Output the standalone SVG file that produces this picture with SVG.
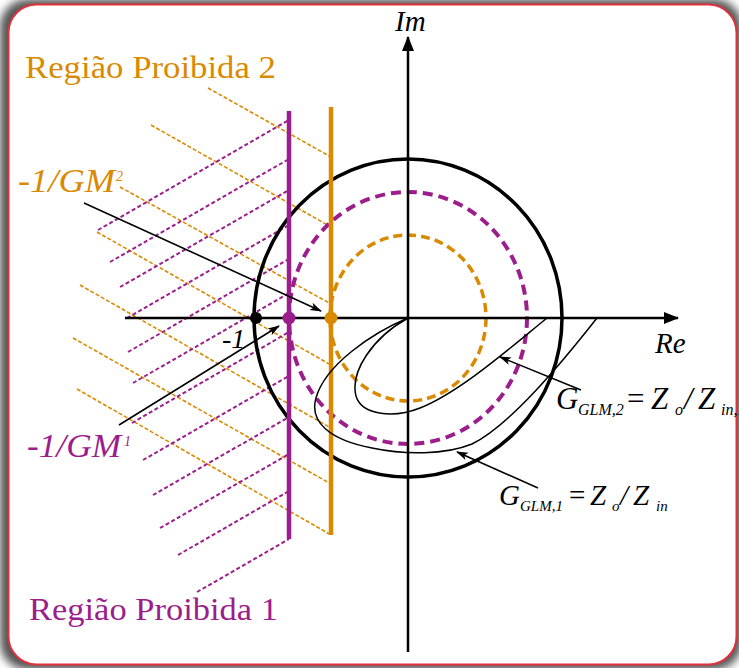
<svg xmlns="http://www.w3.org/2000/svg" width="739" height="668" viewBox="0 0 739 668">
<style>
.m{font-style:italic;}
.u{font-style:normal;}
.or{fill:#d98a00;}
.pu{fill:#9c1d8c;}
.hor{stroke:#d98a00;stroke-width:1.6;stroke-dasharray:4 2;fill:none;}
.hpu{stroke:#9c1d8c;stroke-width:2;stroke-dasharray:4 2.5;fill:none;}
.ax{stroke:#000;stroke-width:2.5;fill:none;}
.ann{stroke:#000;stroke-width:1.6;fill:none;marker-end:url(#ah);}
.cur{stroke:#000;stroke-width:1.5;fill:none;}
</style>
<defs>
<filter id="sh" x="-5%" y="-5%" width="110%" height="110%"><feGaussianBlur stdDeviation="4"/></filter>
<marker id="ah" markerWidth="12" markerHeight="10" refX="11" refY="5" orient="auto" markerUnits="userSpaceOnUse"><path d="M0,1 L12,5 L0,9 L3,5 Z" fill="#000"/></marker>
<marker id="axh" markerWidth="16" markerHeight="14" refX="14" refY="7" orient="auto" markerUnits="userSpaceOnUse"><path d="M0,1 L15,7 L0,13 Z" fill="#000"/></marker>
</defs>
<rect x="0" y="0" width="739" height="668" fill="#fff"/>
<rect x="0" y="-1" width="742" height="671" rx="28" fill="#555" filter="url(#sh)"/>
<rect id="frame" x="8.5" y="4.5" width="728" height="660" rx="28" fill="#fff" stroke="#e0303c" stroke-width="2"/>

<g id="hatch2">
<line class="hor" x1="208" y1="88" x2="331" y2="157"/>
<line class="hor" x1="151" y1="125" x2="331" y2="227"/>
<line class="hor" x1="120" y1="187" x2="331" y2="304"/>
<line class="hor" x1="97" y1="232" x2="331" y2="365"/>
<line class="hor" x1="80" y1="285" x2="331" y2="428"/>
<line class="hor" x1="73" y1="338" x2="331" y2="484"/>
<line class="hor" x1="77" y1="389" x2="331" y2="535"/>
</g>
<g id="hatch1">
<line class="hpu" x1="98" y1="230" x2="289" y2="120"/>
<line class="hpu" x1="110" y1="262" x2="289" y2="159"/>
<line class="hpu" x1="120" y1="287" x2="289" y2="190"/>
<line class="hpu" x1="127" y1="318" x2="289" y2="225"/>
<line class="hpu" x1="128" y1="352" x2="289" y2="259"/>
<line class="hpu" x1="133" y1="383" x2="289" y2="293"/>
<line class="hpu" x1="132" y1="423" x2="289" y2="332"/>
<line class="hpu" x1="143" y1="460" x2="289" y2="376"/>
<line class="hpu" x1="153" y1="495" x2="289" y2="417"/>
<line class="hpu" x1="160" y1="528" x2="289" y2="454"/>
<line class="hpu" x1="178" y1="555" x2="289" y2="491"/>
<line class="hpu" x1="197" y1="592" x2="289" y2="539"/>
</g>

<g id="circles">
<ellipse cx="408" cy="318" rx="154" ry="159" fill="none" stroke="#000" stroke-width="3.5"/>
<ellipse cx="408" cy="318" rx="119" ry="126" fill="none" stroke="#9c1d8c" stroke-width="4" stroke-dasharray="10 6"/>
<ellipse cx="408" cy="318" rx="78" ry="83" fill="none" stroke="#d98a00" stroke-width="3.5" stroke-dasharray="9 5"/>
</g>

<g id="limits">
<line x1="289" y1="111" x2="289" y2="539" stroke="#9c1d8c" stroke-width="4.5"/>
<line x1="331" y1="107" x2="331" y2="535" stroke="#d98a00" stroke-width="4.5"/>
</g>

<g id="axes">
<line class="ax" x1="125" y1="318" x2="678" y2="318" marker-end="url(#axh)"/>
<line class="ax" x1="408" y1="652" x2="408" y2="37" marker-end="url(#axh)"/>
</g>

<g id="curves">
<path class="cur" d="M408,318 C372,338 350,372 356,396 C362,416 395,418 420,408 C460,392 510,348 547,318"/>
<path class="cur" d="M408,318 C372,333 325,365 316,398 C309,422 330,440 372,448 C405,455 445,455 472,444 C510,425 560,365 597,318"/>
</g>

<g id="points">
<circle cx="256" cy="318" r="6" fill="#000"/>
<circle cx="289" cy="318" r="6.5" fill="#9c1d8c"/>
<circle cx="331" cy="318" r="6.5" fill="#d98a00"/>
</g>

<g id="connectors">
<line class="ann" x1="84" y1="203" x2="321" y2="311"/>
<line class="ann" x1="119" y1="425" x2="279" y2="326"/>
<line class="ann" x1="581" y1="390" x2="500" y2="357"/>
<line class="ann" x1="538" y1="488" x2="457" y2="452"/>
</g>

<g id="labels" font-family="'Liberation Serif', 'Times New Roman', serif">
<text class="m" x="395" y="31" font-size="29">Im</text>
<text class="m" x="655" y="353" font-size="29">Re</text>
<text class="u or" x="25" y="78" font-size="31" textLength="251" lengthAdjust="spacingAndGlyphs">Região Proibida 2</text>
<text class="u pu" x="29" y="620" font-size="31" textLength="249" lengthAdjust="spacingAndGlyphs">Região Proibida 1</text>
<text class="m or" x="18" y="192" font-size="33" textLength="97" lengthAdjust="spacingAndGlyphs">-1/GM</text>
<text class="m or" x="116" y="181" font-size="14">2</text>
<text class="m pu" x="27" y="457" font-size="33" textLength="94" lengthAdjust="spacingAndGlyphs">-1/GM</text>
<text class="m pu" x="124" y="446" font-size="14">1</text>
<text class="m" x="222" y="348" font-size="28">-1</text>
<text class="m" font-size="31" y="409"><tspan x="556">G</tspan><tspan x="578" y="415" font-size="16">GLM,2</tspan><tspan class="u" x="627" y="409">=</tspan><tspan x="651">Z</tspan><tspan x="675" y="415" font-size="16">o</tspan><tspan x="684" y="409">/</tspan><tspan x="698">Z</tspan><tspan x="721" y="415" font-size="16">in,1</tspan></text>
<text class="m" font-size="29" y="505"><tspan x="499">G</tspan><tspan x="520" y="511" font-size="15">GLM,1</tspan><tspan class="u" x="569" y="505">=</tspan><tspan x="590">Z</tspan><tspan x="612" y="511" font-size="15">o</tspan><tspan x="620" y="505">/</tspan><tspan x="633">Z</tspan><tspan x="656" y="511" font-size="15">in</tspan></text>
</g>
</svg>
